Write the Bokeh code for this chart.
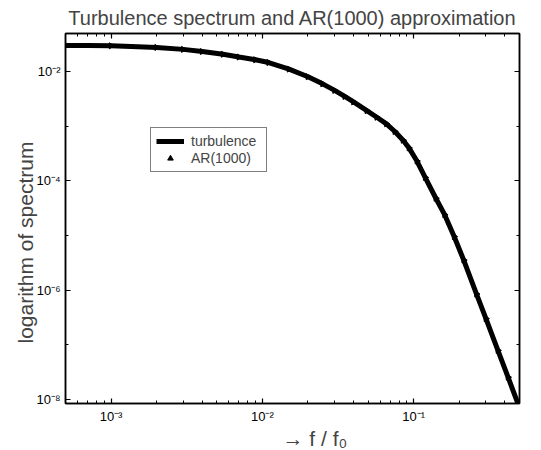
import math
from bokeh.plotting import figure
from bokeh.models import (Range1d, FixedTicker, LogAxis, CustomJSTickFormatter, Legend,
                          LegendItem, Title)
from bokeh.embed import file_html
from bokeh.resources import INLINE

# ---- data ----
freq = [5e-4, 7e-4, 1e-3, 1.5e-3, 2e-3, 3e-3, 4e-3, 5.5e-3, 7e-3, 9e-3, 0.011, 0.015,
        0.02, 0.025, 0.03, 0.035, 0.04, 0.049, 0.057, 0.066, 0.075, 0.085, 0.093,
        0.105, 0.119, 0.14, 0.16, 0.185, 0.214, 0.26, 0.3, 0.36, 0.42, 0.5]
turbulence = [0.02972, 0.02951, 0.02917, 0.02818, 0.02723, 0.02512, 0.02291, 0.02042,
              0.01820, 0.01622, 0.01445, 0.01096, 0.007943, 0.005888, 0.004467,
              0.003467, 0.002754, 0.001905, 0.001445, 0.001096, 7.943e-4, 5.495e-4,
              3.981e-4, 2.291e-4, 1.148e-4, 4.786e-5, 2.399e-5, 9.55e-6, 3.548e-6,
              8.51e-7, 3.02e-7, 7.94e-8, 2.57e-8, 7.08e-9]
ar_freq = [5e-4, 1e-3, 2e-3, 3e-3, 4e-3, 5.5e-3, 7e-3, 9e-3, 0.011, 0.015, 0.02, 0.025,
           0.03, 0.035, 0.04, 0.049, 0.057, 0.066, 0.075, 0.085, 0.093, 0.105, 0.119,
           0.14, 0.16, 0.185, 0.214, 0.26, 0.3, 0.36, 0.42]
ar1000 = [0.02972, 0.02917, 0.02723, 0.02512, 0.02291, 0.02042, 0.01820, 0.01622,
          0.01445, 0.01096, 0.007943, 0.005888, 0.004467, 0.003467, 0.002754, 0.001905,
          0.001445, 0.001096, 7.943e-4, 5.495e-4, 3.981e-4, 2.291e-4, 1.148e-4,
          4.786e-5, 2.399e-5, 9.55e-6, 3.548e-6, 8.51e-7, 3.02e-7, 7.94e-8, 2.57e-8]

x_major = [1e-3, 1e-2, 1e-1]
y_major = [1e-8, 1e-6, 1e-4, 1e-2]

FONT = "Liberation Sans"

p = figure(width=541, height=450, x_axis_type="log", y_axis_type="log",
           x_range=Range1d(5e-4, 0.5), y_range=Range1d(8.5e-9, 0.049),
           output_backend="svg", toolbar_location=None,
           min_border_left=65, min_border_right=22, min_border_top=32, min_border_bottom=47)

p.title.text = "Turbulence spectrum and AR(1000) approximation"
p.title.align = "center"
p.title.text_font = FONT
p.title.text_font_size = "20px"
p.title.text_font_style = "normal"
p.title.standoff = 9

p.grid.visible = False
p.outline_line_color = "black"
p.outline_line_width = 1.5
p.background_fill_color = "white"
p.border_fill_color = "white"

x_minor = [k * 10.0 ** d for d in (-4, -3, -2, -1) for k in range(2, 10)]
y_minor = [1e-7, 1e-5, 1e-3]

fmt = CustomJSTickFormatter(code="""
const sup = {'-':'\u207b','0':'\u2070','1':'\u00b9','2':'\u00b2','3':'\u00b3','4':'\u2074',
             '5':'\u2075','6':'\u2076','7':'\u2077','8':'\u2078','9':'\u2079'};
const e = Math.round(Math.log10(tick));
return '10' + String(e).split('').map(c => sup[c]).join('');
""")

def style_axis(ax, labels=True):
    ax.axis_line_color = "black"
    ax.axis_line_width = 1.5
    ax.major_tick_in = 5
    ax.major_tick_out = 0
    ax.minor_tick_in = 3
    ax.minor_tick_out = 0
    ax.major_tick_line_color = "black"
    ax.minor_tick_line_color = "black"
    ax.major_tick_line_width = 1.2
    if labels:
        ax.formatter = fmt
        ax.major_label_text_font = FONT
        ax.major_label_text_font_size = "13px"
        ax.major_label_text_color = "black"
        ax.major_label_standoff = 5
    else:
        ax.major_label_text_font_size = "1px"
        ax.major_label_text_alpha = 0
        ax.major_label_standoff = 0

xa = p.xaxis[0]
xa.ticker = FixedTicker(ticks=x_major, minor_ticks=x_minor)
style_axis(xa)
ya = p.yaxis[0]
ya.ticker = FixedTicker(ticks=y_major, minor_ticks=y_minor)
style_axis(ya)

top = LogAxis(ticker=FixedTicker(ticks=x_major, minor_ticks=x_minor))
style_axis(top, labels=False)
p.add_layout(top, "above")
right = LogAxis(ticker=FixedTicker(ticks=y_major, minor_ticks=y_minor))
style_axis(right, labels=False)
p.add_layout(right, "right")

ylab = Title(text="logarithm of spectrum", align="left", offset=60,
             text_font=FONT, text_font_size="21px", text_font_style="normal",
             standoff=-7)
p.add_layout(ylab, "left")

xlab = Title(text="\u2192  f / f\u2080", align="left", offset=217,
             text_font=FONT, text_font_size="21px", text_font_style="normal",
             standoff=-3)
p.add_layout(xlab, "below")

line = p.line(freq, turbulence, line_color="black", line_width=5)
pts = p.scatter(ar_freq, ar1000, marker="triangle", size=6, angle=-math.pi / 2,
                fill_color="black", line_color="black")

legend = Legend(items=[LegendItem(label="turbulence", renderers=[line]),
                       LegendItem(label="AR(1000)", renderers=[pts], index=0)],
                location=(85, 231), orientation="vertical")
legend.border_line_color = "black"
legend.border_line_width = 1.5
legend.background_fill_color = "white"
legend.background_fill_alpha = 1
legend.label_text_font = FONT
legend.label_text_font_size = "14px"
legend.padding = 5
legend.spacing = 1
legend.margin = 0
legend.glyph_width = 28
legend.glyph_height = 14
legend.label_height = 14
legend.label_standoff = 7
legend.label_width = 70
p.add_layout(legend, "center")

open("out.html", "w").write(file_html(p, INLINE))
